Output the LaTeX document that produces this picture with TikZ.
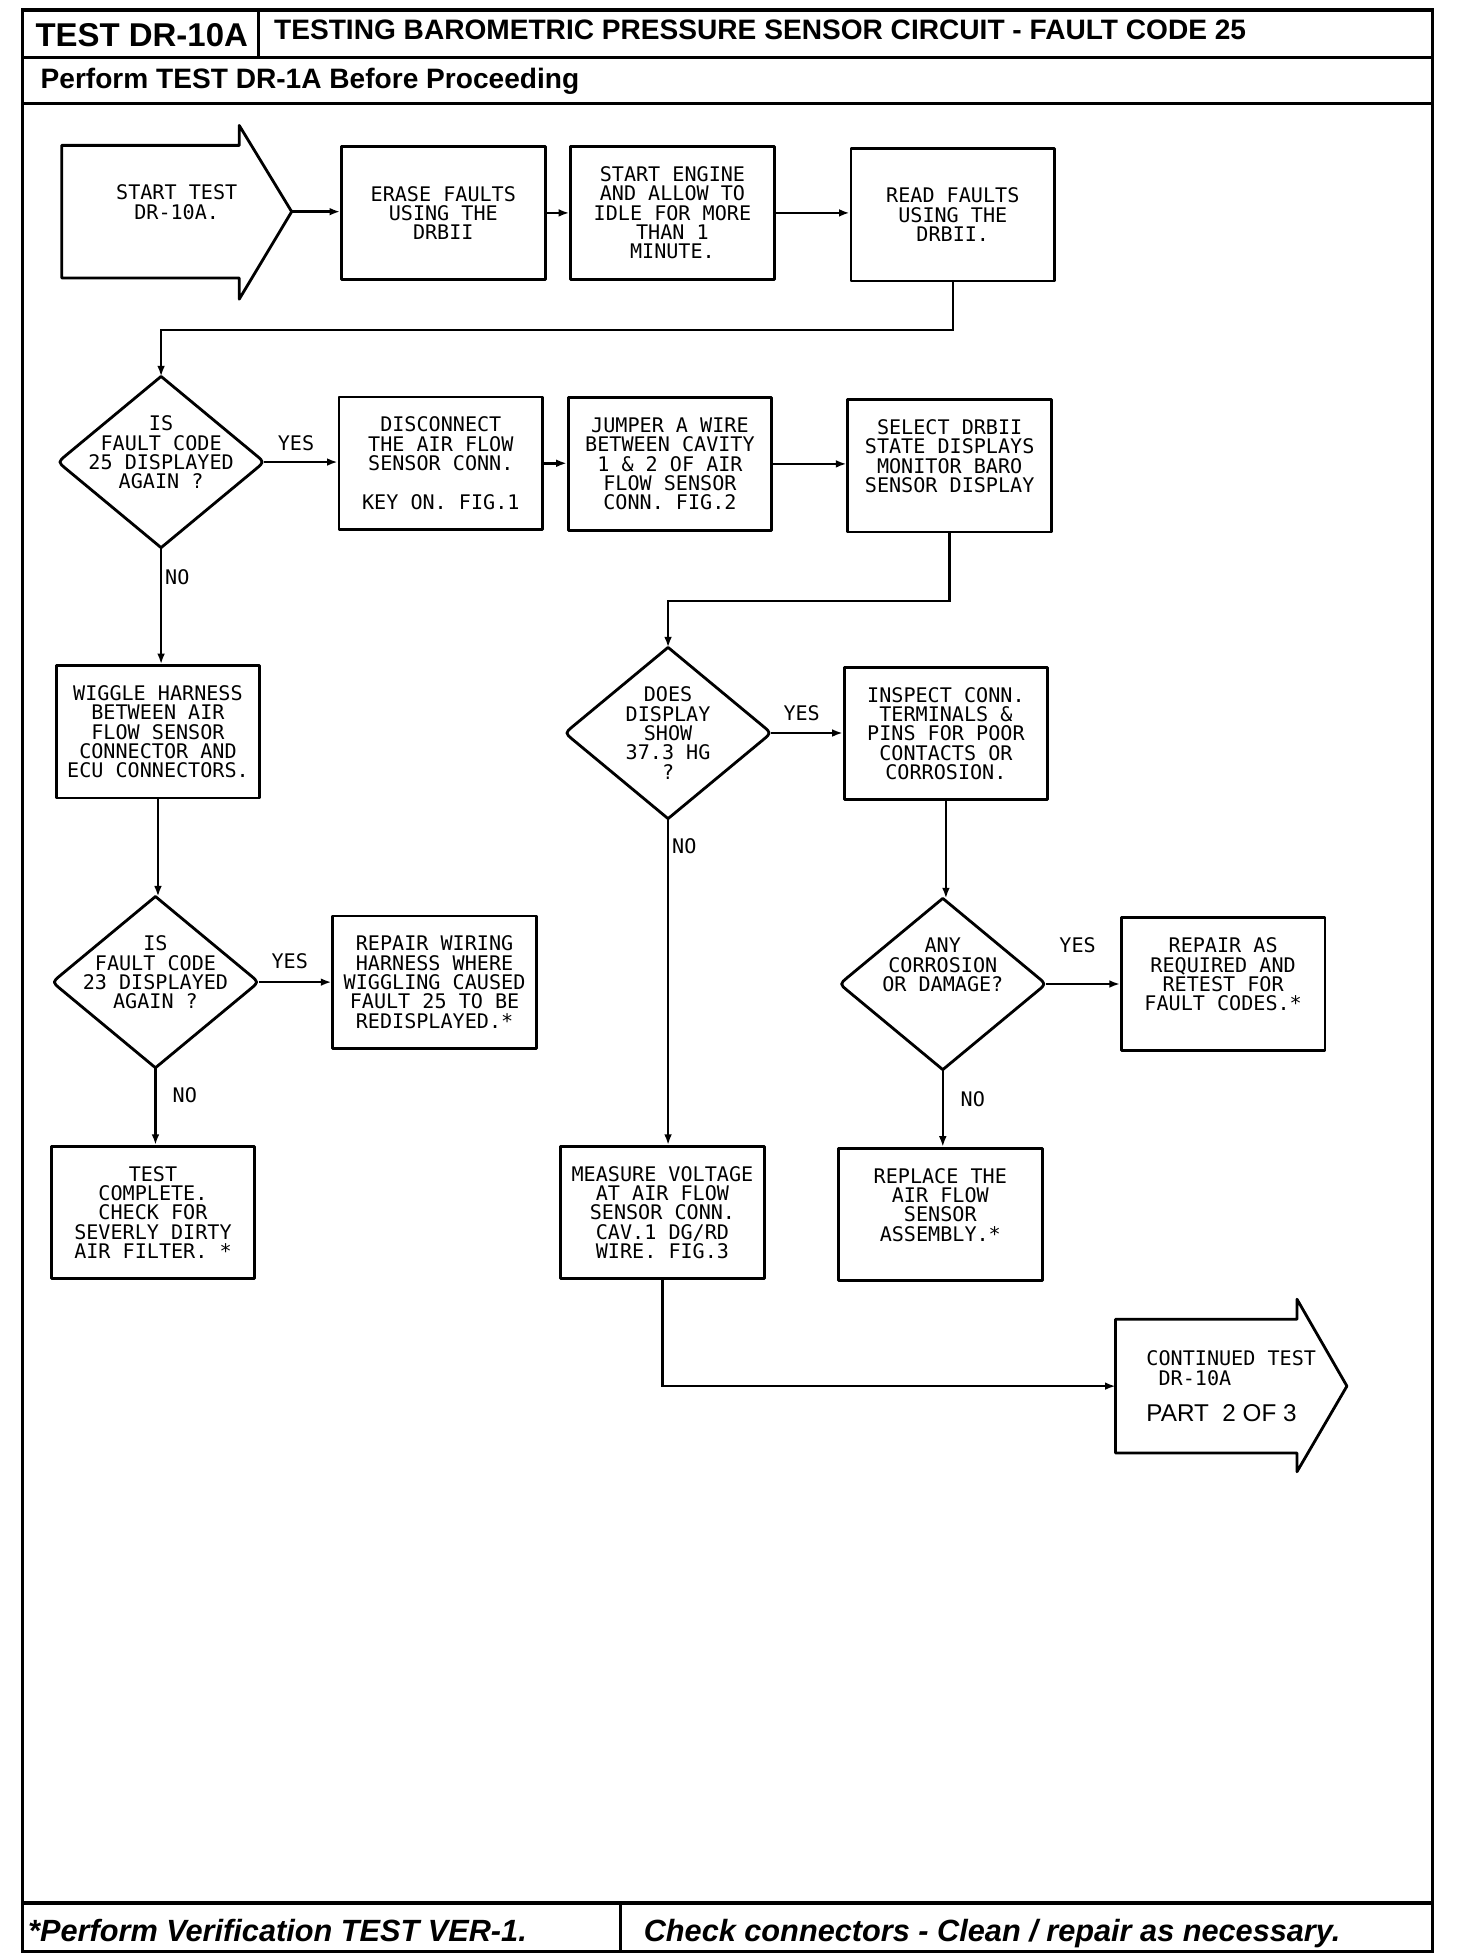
\documentclass[tikz,border=0pt]{standalone}
\usepackage{fontspec}
\usetikzlibrary{arrows.meta,calc}
\newfontfamily\plotfont{DejaVu Sans Mono}
\newfontfamily\headfont{Liberation Sans}
\newcommand\fcdiamond[1]{%
  \draw[boxline] (#1.north) -- ($(#1.east)!0.08!(#1.north)$) .. controls (#1.east) .. ($(#1.east)!0.08!(#1.south)$)
   -- (#1.south) -- ($(#1.west)!0.08!(#1.south)$) .. controls (#1.west) .. ($(#1.west)!0.08!(#1.north)$) -- cycle;}
\tikzset{
  boxline/.style={line width=0.8pt, line join=round},
  frame/.style={line width=0.9pt},
  plotf/.style={font=\plotfont\fontsize{5.72}{5.5}\selectfont},
  fcbox/.style={draw, boxline, rectangle, minimum width=57.9pt, minimum height=37.66pt, inner sep=1pt, align=center, plotf},
  fcdia/.style={rectangle, minimum width=58.3pt, minimum height=48.3pt, inner sep=0pt, align=center, plotf},
  fcarrow/.style={rectangle, minimum width=65.0pt, minimum height=37.3pt, inner sep=0pt, align=center, plotf},
  lbl/.style={inner sep=0pt, plotf},
  conn/.style={line width=0.7pt, -{Latex[length=3pt,width=2.2pt]}},
  hd/.style={inner sep=0pt, font=\headfont\bfseries\fontsize{7.99}{9}\selectfont},
  ft/.style={inner sep=0pt, font=\headfont\bfseries\itshape\fontsize{8.73}{10}\selectfont},
}
\begin{document}
\begin{tikzpicture}[x=0.012487cm, y=-0.012487cm]
\useasboundingbox (0,0) rectangle (1166,1568);
% frame
\draw[frame] (18,8) rectangle (1147,1563);
\draw[frame] (207,8) -- (207,46);
\draw[frame] (18,46) -- (1147,46);
\draw[frame] (18,83) -- (1147,83);
\draw[frame] (18,1524) -- (1147,1524);
\draw[frame] (497,1524) -- (497,1563);
\node[hd, font=\headfont\bfseries\fontsize{9.37}{11}\selectfont, anchor=base] (testid) at (113.5,37) {TEST DR-10A};
\node[hd, anchor=base west] (title) at (219,32) {TESTING BAROMETRIC PRESSURE SENSOR CIRCUIT - FAULT CODE 25};
\node[hd, anchor=base west] (pre) at (32,71) {Perform TEST DR-1A Before Proceeding};
\node[ft, anchor=base west] (foot1) at (22,1555) {*Perform Verification TEST VER-1.};
\node[ft, anchor=base west] (foot2) at (515,1555) {Check connectors - Clean / repair as necessary.};

% row 1
\node[fcarrow] (start) at (141.5,169.5) {START TEST\\DR-10A.\\\mbox{}};
\draw[boxline] (start.north west) -- ($(start.north east)+(-42,0)$) -- ++(0,-16) -- (start.east)
  -- ($(start.south east)+(-42,17)$) -- ++(0,-17) -- (start.south west) -- cycle;
\node[fcbox] (erase) at (355,170.5) {ERASE FAULTS\\USING THE\\DRBII};
\node[fcbox] (engine) at (538.5,170.5) {START ENGINE\\AND ALLOW TO\\IDLE FOR MORE\\THAN 1\\MINUTE.};
\node[fcbox] (read) at (763,172) {READ FAULTS\\USING THE\\DRBII.};

% row 2
\node[fcdia] (d1) at (129,370) {IS\\FAULT CODE\\25 DISPLAYED\\AGAIN ?\\\mbox{}};
\fcdiamond{d1}
\node[fcbox] (disc) at (353,371) {DISCONNECT\\THE AIR FLOW\\SENSOR CONN.\\[5.5pt]KEY ON. FIG.1};
\node[fcbox] (jumper) at (536.5,371.5) {JUMPER A WIRE\\BETWEEN CAVITY\\1 \& 2 OF AIR\\FLOW SENSOR\\CONN. FIG.2};
\node[fcbox] (select) at (760.5,373) {SELECT DRBII\\STATE DISPLAYS\\MONITOR BARO\\SENSOR DISPLAY\\\mbox{}};

% left column
\node[fcbox] (wiggle) at (126.5,586) {WIGGLE HARNESS\\BETWEEN AIR\\FLOW SENSOR\\CONNECTOR AND\\ECU CONNECTORS.};
\node[fcdia] (d3) at (124.5,786.5) {IS\\FAULT CODE\\23 DISPLAYED\\AGAIN ?\\\mbox{}};
\fcdiamond{d3}
\node[fcbox] (repairw) at (348,786.5) {REPAIR WIRING\\HARNESS WHERE\\WIGGLING CAUSED\\FAULT 25 TO BE\\REDISPLAYED.*};
\node[fcbox] (testc) at (122.5,971) {TEST\\COMPLETE.\\CHECK FOR\\SEVERLY DIRTY\\AIR FILTER. *};

% middle/right column
\node[fcdia] (d2) at (535,587) {DOES\\DISPLAY\\SHOW\\37.3 HG\\?};
\fcdiamond{d2}
\node[fcbox] (inspect) at (757.5,587.5) {INSPECT CONN.\\TERMINALS \&\\PINS FOR POOR\\CONTACTS OR\\CORROSION.};
\node[fcdia] (d4) at (755,788) {ANY\\CORROSION\\OR DAMAGE?\\\mbox{}\\\mbox{}};
\fcdiamond{d4}
\node[fcbox] (repaira) at (979.5,788) {REPAIR AS\\REQUIRED AND\\RETEST FOR\\FAULT CODES.*\\\mbox{}};
\node[fcbox] (replace) at (753,972.5) {REPLACE THE\\AIR FLOW\\SENSOR\\ASSEMBLY.*\\\mbox{}};
\node[fcbox] (measure) at (530.5,971) {MEASURE VOLTAGE\\AT AIR FLOW\\SENSOR CONN.\\CAV.1 DG/RD\\WIRE. FIG.3};

% continued arrow
\node[fcarrow, minimum width=65.4pt, minimum height=37.66pt, align=left] (cont) at (986,1110)
  {CONTINUED TEST\\~DR-10A\\[4.8pt]{\headfont\fontsize{6.9}{7}\selectfont PART\ \ 2 OF 3}};
\draw[boxline] (cont.north west) -- ($(cont.north east)+(-40,0)$) -- ++(0,-16) -- (cont.east)
  -- ($(cont.south east)+(-40,15)$) -- ++(0,-15) -- (cont.south west) -- cycle;

% labels
\node[lbl] (y1) at (237,355) {YES};
\node[lbl] (n1) at (142,462) {NO};
\node[lbl] (y3) at (232,770) {YES};
\node[lbl] (n3) at (148,877) {NO};
\node[lbl] (y2) at (642,571) {YES};
\node[lbl] (n2) at (548,678) {NO};
\node[lbl] (y4) at (863,757) {YES};
\node[lbl] (n4) at (779,880) {NO};

% connectors
\draw[conn] (start.east) -- (start.east -| erase.west);
\draw[conn] (erase.east) -- (erase.east -| engine.west);
\draw[conn] (engine.east) -- (engine.east -| read.west);
\draw[conn] (read.south) -- ++(0,38) -| (d1.north);
\draw[conn] (d1.east) -- (d1.east -| disc.west);
\draw[conn] (disc.east) -- (disc.east -| jumper.west);
\draw[conn] (jumper.east) -- (jumper.east -| select.west);
\draw[conn] (select.south) -- ++(0,54) -| (d2.north);
\draw[conn] (d1.south) -- (d1.south |- wiggle.north);
\draw[conn] (wiggle.south) -- (wiggle.south |- d3.north);
\draw[conn] (d3.east) -- (d3.east -| repairw.west);
\draw[conn] (d3.south) -- (d3.south |- testc.north);
\draw[conn] (d2.east) -- (d2.east -| inspect.west);
\draw[conn] (d2.south) -- (d2.south |- measure.north);
\draw[conn] (inspect.south) -- (inspect.south |- d4.north);
\draw[conn] (d4.east) -- (d4.east -| repaira.west);
\draw[conn] (d4.south) -- (d4.south |- replace.north);
\draw[conn] (measure.south) |- (cont.west);
\end{tikzpicture}
\end{document}
